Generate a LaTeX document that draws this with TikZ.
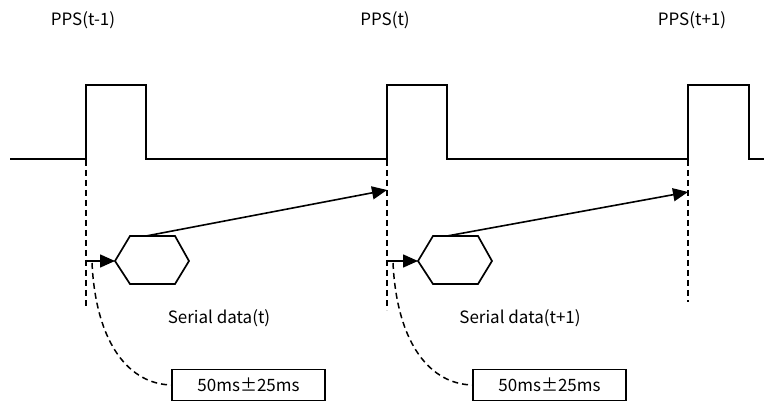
\documentclass[tikz,border=0pt]{standalone}
\usepackage{fontspec}
\setmainfont{Noto Sans CJK JP}
\usetikzlibrary{arrows.meta}
\tikzset{
  wave/.style={line width=1.9pt, line join=miter},
  guide/.style={line width=1.5pt, dash pattern=on 6pt off 4pt},
  frame/.style={line width=1.7pt, line join=miter},
  link/.style={line width=1.6pt, -{Triangle[length=15pt,width=13pt]}},
  lbl/.style={font=\fontsize{17}{20}\selectfont, inner sep=0pt},
  tolbox/.style={draw, line width=1.5pt, minimum width=153pt, minimum height=31pt, inner sep=0pt,
    font=\fontsize{17}{20}\selectfont}
}
\begin{document}
\begin{tikzpicture}[x=1pt,y=-1pt]
\useasboundingbox (0,0) rectangle (764,401);
% PPS labels
\node[lbl] (p0) at (83,20) {PPS(t-1)};
\node[lbl] (p1) at (385,20) {PPS(t)};
\node[lbl] (p2) at (692,20) {PPS(t+1)};
% pulse train
\draw[wave] (10,159) -- (86,159) -- (86,85) -- (146,85) -- (146,159)
  -- (387,159) -- (387,85) -- (447,85) -- (447,159)
  -- (688,159) -- (688,85) -- (749,85) -- (749,159) -- (764,159);
% PPS edge guides
\coordinate (e0t) at (86,160); \coordinate (e0b) at (86,306);
\coordinate (e1t) at (387,160); \coordinate (e1b) at (387,310);
\coordinate (e2t) at (688,160); \coordinate (e2b) at (688,302);
\draw[guide] (e0t) -- (e0b);
\draw[guide] (e1t) -- (e1b);
\draw[guide] (e2t) -- (e2b);
% serial data frames
\draw[frame] (115,261) -- (130,236) -- (175,236) -- (189,261) -- (175,284) -- (130,284) -- cycle;
\draw[frame] (418,261) -- (433,236) -- (478,236) -- (492,261) -- (478,284) -- (433,284) -- cycle;
\coordinate (h0l) at (115,261); \coordinate (h0t) at (146,236);
\coordinate (h1l) at (418,261); \coordinate (h1t) at (447,236);
\coordinate (s0) at (86,261); \coordinate (s1) at (387,261);
\coordinate (a1) at (387,190); \coordinate (a2) at (688,192);
\draw[link] (s0) -- (h0l);
\draw[link] (s1) -- (h1l);
\draw[link] (h0t) -- (a1);
\draw[link] (h1t) -- (a2);
\node[lbl] (d0) at (219,318) {Serial data(t)};
\node[lbl] (d1) at (520,318) {Serial data(t+1)};
% offset boxes
\node[tolbox] (b0) at (248.5,385) {50ms±25ms};
\node[tolbox] (b1) at (549.5,385) {50ms±25ms};
\coordinate (c0) at (92,263); \coordinate (c1) at (393,263);
\draw[guide] (c0) .. controls (96,345) and (130,384) .. (b0.west);
\draw[guide] (c1) .. controls (397,345) and (431,384) .. (b1.west);
\end{tikzpicture}
\end{document}
